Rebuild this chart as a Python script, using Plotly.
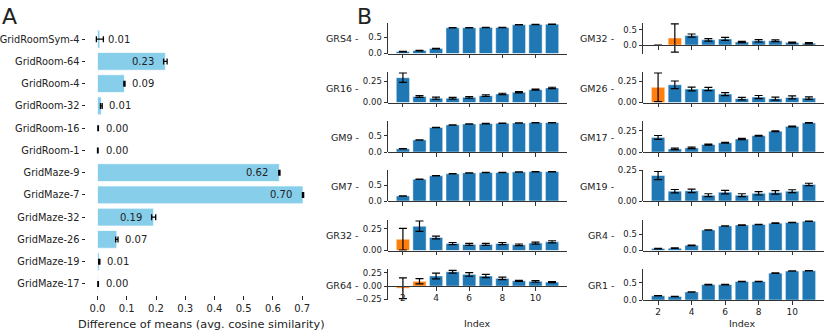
import plotly.graph_objects as go

W, H = 830, 335

# panel A: difference of means per environment
envs = ["GridRoomSym-4", "GridRoom-64", "GridRoom-4", "GridRoom-32", "GridRoom-16", "GridRoom-1",
        "GridMaze-9", "GridMaze-7", "GridMaze-32", "GridMaze-26", "GridMaze-19", "GridMaze-17"]
diff_means = [0.008, 0.232, 0.092, 0.013, 0.002, 0.001, 0.622, 0.703, 0.192, 0.066, 0.006, 0.002]
diff_err = [0.012, 0.006, 0.002, 0.003, 0.001, 0.001, 0.002, 0.002, 0.007, 0.004, 0.002, 0.001]

# panel B: per-index values
index = list(range(2, 12))

GRS4 = [0.06, 0.09, 0.15, 0.78, 0.78, 0.79, 0.79, 0.87, 0.88, 0.89]
GRS4_err = [0.008, 0.008, 0.008, 0.005, 0.005, 0.005, 0.005, 0.005, 0.005, 0.005]
GR16 = [0.29, 0.07, 0.05, 0.05, 0.06, 0.08, 0.10, 0.12, 0.15, 0.17]
GR16_err = [0.055, 0.01, 0.012, 0.01, 0.01, 0.01, 0.008, 0.008, 0.007, 0.008]
GM9 = [0.10, 0.37, 0.75, 0.83, 0.86, 0.87, 0.88, 0.89, 0.90, 0.90]
GM9_err = [0.006, 0.006, 0.006, 0.006, 0.005, 0.005, 0.005, 0.005, 0.005, 0.005]
GM7 = [0.16, 0.69, 0.80, 0.86, 0.89, 0.90, 0.90, 0.92, 0.93, 0.93]
GM7_err = [0.006, 0.006, 0.006, 0.005, 0.005, 0.005, 0.005, 0.005, 0.005, 0.005]
GR32 = [0.13, 0.28, 0.15, 0.08, 0.07, 0.07, 0.08, 0.065, 0.085, 0.10]
GR32_err = [0.125, 0.06, 0.015, 0.012, 0.012, 0.012, 0.012, 0.01, 0.012, 0.012]
GR64 = [-0.04, 0.09, 0.19, 0.27, 0.22, 0.19, 0.145, 0.10, 0.09, 0.075]
GR64_err = [0.195, 0.05, 0.055, 0.025, 0.035, 0.03, 0.025, 0.01, 0.015, 0.008]

GM32 = [0.0, 0.23, 0.31, 0.17, 0.20, 0.10, 0.14, 0.14, 0.08, 0.06]
GM32_err = [0.0, 0.46, 0.05, 0.04, 0.05, 0.02, 0.04, 0.03, 0.02, 0.02]
GM26 = [0.18, 0.21, 0.16, 0.16, 0.10, 0.045, 0.065, 0.045, 0.06, 0.052]
GM26_err = [0.17, 0.045, 0.022, 0.02, 0.018, 0.015, 0.018, 0.018, 0.018, 0.015]
GM17 = [0.17, 0.036, 0.048, 0.087, 0.107, 0.151, 0.19, 0.242, 0.298, 0.34]
GM17_err = [0.022, 0.008, 0.008, 0.006, 0.005, 0.007, 0.005, 0.005, 0.005, 0.004]
GM19 = [0.208, 0.08, 0.083, 0.047, 0.072, 0.047, 0.063, 0.07, 0.08, 0.135]
GM19_err = [0.033, 0.014, 0.014, 0.012, 0.014, 0.012, 0.014, 0.014, 0.012, 0.01]
GR4 = [0.06, 0.07, 0.16, 0.63, 0.75, 0.78, 0.80, 0.84, 0.86, 0.90]
GR4_err = [0.008, 0.008, 0.008, 0.006, 0.006, 0.006, 0.006, 0.006, 0.006, 0.006]
GR1 = [0.12, 0.10, 0.23, 0.44, 0.44, 0.53, 0.53, 0.77, 0.83, 0.84]
GR1_err = [0.006, 0.006, 0.006, 0.006, 0.006, 0.006, 0.006, 0.006, 0.006, 0.006]

# indices drawn in orange
highlight = {"GR32": [2], "GR64": [2, 3], "GM32": [2, 3], "GM26": [2]}

left_col = ["GRS4", "GR16", "GM9", "GM7", "GR32", "GR64"]
right_col = ["GM32", "GM26", "GM17", "GM19", "GR4", "GR1"]

values = {
    "GRS4": (GRS4, GRS4_err), "GR16": (GR16, GR16_err), "GM9": (GM9, GM9_err),
    "GM7": (GM7, GM7_err), "GR32": (GR32, GR32_err), "GR64": (GR64, GR64_err),
    "GM32": (GM32, GM32_err), "GM26": (GM26, GM26_err), "GM17": (GM17, GM17_err),
    "GM19": (GM19, GM19_err), "GR4": (GR4, GR4_err), "GR1": (GR1, GR1_err),
}

BLUE = "#1f77b4"
ORANGE = "#ff7f0e"
SKY = "#87ceeb"
INK = "#222222"
FONT = "DejaVu Sans"


def px_x(p):
    return p / W


def px_y(p):
    return 1 - p / H


fig = go.Figure()
annotations = []
layout = {}

# ---------------- panel A
fig.add_trace(go.Bar(
    x=diff_means, y=envs, orientation="h", width=0.8,
    marker=dict(color=SKY, line=dict(color="rgba(255,255,255,0.7)", width=1)),
    error_x=dict(type="data", array=diff_err, color="black", thickness=1.3, width=3),
    xaxis="x", yaxis="y",
))
lo = min(v - e for v, e in zip(diff_means, diff_err))
hi = max(v + e for v, e in zip(diff_means, diff_err))
pad = 0.05 * (hi - lo)
layout["xaxis"] = dict(
    domain=[px_x(86), px_x(314)], range=[lo - pad, hi + pad], anchor="y", automargin=False,
    tickvals=[i / 10 for i in range(8)], tickformat=".1f",
    ticks="outside", ticklen=3.5, tickcolor=INK, showline=False, showgrid=False,
    zeroline=False, tickfont=dict(size=10, color=INK),
)
layout["yaxis"] = dict(
    domain=[px_y(295), px_y(28)], range=[len(envs) - 0.5, -0.5], anchor="x", automargin=False,
    ticks="outside", ticklen=3.5, tickcolor=INK, showline=False, showgrid=False,
    zeroline=False, tickfont=dict(size=9.8, color=INK),
)
for name, v, e in zip(envs, diff_means, diff_err):
    if v > 0.15:
        annotations.append(dict(x=v - 0.032, y=name, xref="x", yref="y", text=f"{v:.2f}",
                                xanchor="right", yanchor="middle", showarrow=False,
                                font=dict(size=10, color=INK)))
    else:
        annotations.append(dict(x=v + 0.02, y=name, xref="x", yref="y", text=f"{v:.2f}",
                                xanchor="left", yanchor="middle", showarrow=False,
                                font=dict(size=10, color=INK)))

annotations.append(dict(x=px_x(201), y=px_y(324), xref="paper", yref="paper",
                        text="Difference of means (avg. cosine similarity)",
                        showarrow=False, xanchor="center", yanchor="middle",
                        font=dict(size=11.3, color=INK)))
annotations.append(dict(x=px_x(0), y=px_y(2), xref="paper", yref="paper", text="A",
                        showarrow=False, xanchor="left", yanchor="top",
                        font=dict(size=22, color=INK)))
annotations.append(dict(x=px_x(355), y=px_y(2), xref="paper", yref="paper", text="B",
                        showarrow=False, xanchor="left", yanchor="top",
                        font=dict(size=22, color=INK)))

# ---------------- panel B
col_px = [(388, 567), (643, 824)]
row_top = [22.5, 71.5, 121, 170, 219.5, 269]
row_h = 31

k = 2
for c, names in enumerate([left_col, right_col]):
    x0, x1 = col_px[c]
    for r, name in enumerate(names):
        vals, errs = values[name]
        colors = [ORANGE if i in highlight.get(name, []) else BLUE for i in index]
        lo = min(0, min(v - e for v, e in zip(vals, errs)))
        hi = max(v + e for v, e in zip(vals, errs))
        pad = 0.05 * (hi - lo)
        y_lo = lo - pad if lo < 0 else 0
        y_hi = hi + pad
        top = row_top[r]
        bot = top + row_h
        dom = [px_y(bot), px_y(top)]
        zero_pos = dom[0] + (0 - y_lo) / (y_hi - y_lo) * (dom[1] - dom[0])
        dtick = 0.5 if hi > 0.6 else 0.25
        fmt = ".1f" if dtick == 0.5 else ".2f"

        fig.add_trace(go.Bar(
            x=index, y=vals, width=0.8,
            marker=dict(color=colors, line=dict(color="rgba(255,255,255,0.6)", width=0.8)),
            error_y=dict(type="data", array=errs, color="black", thickness=1.2, width=4),
            xaxis=f"x{k}", yaxis=f"y{k}",
        ))
        layout[f"xaxis{k}"] = dict(
            domain=[px_x(x0), px_x(x1)], range=[1.1, 11.9], anchor="free", position=zero_pos,
            automargin=False,
            showline=True, linecolor="#333333", linewidth=1, ticks="outside", ticklen=3.5,
            tickcolor="#333333", tickvals=[2, 4, 6, 8, 10], showticklabels=(r == 5),
            showgrid=False, zeroline=False, tickfont=dict(size=9, color=INK),
        )
        layout[f"yaxis{k}"] = dict(
            domain=dom, range=[y_lo, y_hi], anchor=f"x{k}", automargin=False,
            showline=True, linecolor="#333333", linewidth=1, ticks="outside", ticklen=3.5,
            tickcolor="#333333", dtick=dtick, tick0=0, tickformat=fmt,
            showgrid=False, zeroline=False, tickfont=dict(size=8.5, color=INK),
        )
        annotations.append(dict(x=px_x(x0 - 27), y=px_y(top + row_h / 2 + 1), xref="paper",
                                yref="paper", text=f"{name} -", showarrow=False,
                                xanchor="right", yanchor="middle",
                                font=dict(size=9.5, color=INK)))
        k += 1

annotations.append(dict(x=px_x(477), y=px_y(323), xref="paper", yref="paper", text="Index",
                        showarrow=False, xanchor="center", yanchor="middle",
                        font=dict(size=9.5, color=INK)))
annotations.append(dict(x=px_x(742), y=px_y(323), xref="paper", yref="paper", text="Index",
                        showarrow=False, xanchor="center", yanchor="middle",
                        font=dict(size=9.5, color=INK)))

fig.update_layout(
    width=W, height=H, autosize=False,
    margin=dict(l=0, r=0, t=0, b=0),
    plot_bgcolor="white", paper_bgcolor="white",
    showlegend=False, font=dict(family=FONT, color=INK),
    annotations=annotations,
    **layout,
)

# the page body has a default 8px margin; drop it so the figure fills the window
fig.write_html("out.html", config={"displayModeBar": False},
               post_script="document.body.style.margin='0';")
